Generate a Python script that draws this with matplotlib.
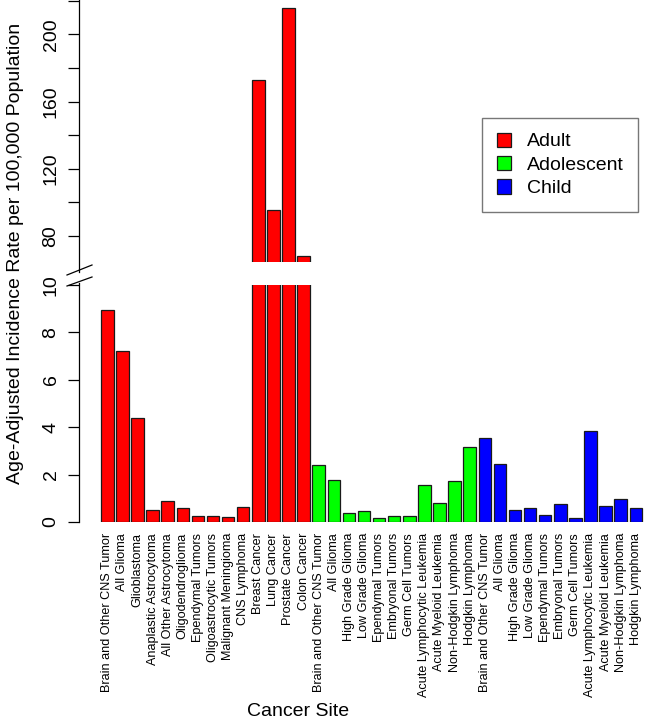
import matplotlib
matplotlib.use("Agg")
import matplotlib.pyplot as plt
from matplotlib.lines import Line2D
from matplotlib.patches import Patch

plt.rcParams["font.family"] = ["Liberation Sans", "DejaVu Sans"]

adult_sites = ["Brain and Other CNS Tumor", "All Glioma", "Glioblastoma",
               "Anaplastic Astrocytoma", "All Other Astrocytoma", "Oligodendroglioma",
               "Ependymal Tumors", "Oligoastrocytic Tumors", "Malignant Meningioma",
               "CNS Lymphoma", "Breast Cancer", "Lung Cancer", "Prostate Cancer",
               "Colon Cancer"]
adult_rates = [8.93, 7.23, 4.37, 0.52, 0.90, 0.59, 0.27, 0.27, 0.21, 0.63,
               173, 95.5, 216, 68]

young_sites = ["Brain and Other CNS Tumor", "All Glioma", "High Grade Glioma",
               "Low Grade Glioma", "Ependymal Tumors", "Embryonal Tumors",
               "Germ Cell Tumors", "Acute Lymphocytic Leukemia",
               "Acute Myeloid Leukemia", "Non-Hodgkin Lymphoma", "Hodgkin Lymphoma"]
adolescent_rates = [2.40, 1.76, 0.39, 0.47, 0.17, 0.25, 0.24, 1.58, 0.81, 1.72, 3.17]
child_rates = [3.54, 2.45, 0.52, 0.61, 0.28, 0.78, 0.15, 3.82, 0.67, 0.95, 0.59]

groups = ["Adult", "Adolescent", "Child"]
colors = ["#ff0000", "#00ff00", "#0000ff"]

labels = adult_sites + young_sites + young_sites
values = adult_rates + adolescent_rates + child_rates
bar_colors = ([colors[0]] * len(adult_rates) + [colors[1]] * len(adolescent_rates)
              + [colors[2]] * len(child_rates))
xpos = list(range(len(values)))

W, H = 645, 723
fig = plt.figure(figsize=(W / 100, H / 100), dpi=100)


def px_axes(left, top, right, bottom):
    return fig.add_axes([left / W, 1 - bottom / H, (right - left) / W, (bottom - top) / H])


ax_top = px_axes(79, 0, 645, 262)
ax_bot = px_axes(79, 285, 645, 522)

xlim = (-1.874, 35.61)
for ax in (ax_top, ax_bot):
    ax.bar(xpos, values, width=0.83, color=bar_colors, edgecolor="#1a1a1a", linewidth=0.9)
    ax.set_xlim(*xlim)
    for s in ("top", "right", "bottom", "left"):
        ax.spines[s].set_visible(False)
    ax.tick_params(axis="y", length=8, width=0.9, pad=6, labelsize=14, labelrotation=90)

ax_top.set_ylim(64.5, 220.5)
ax_top.set_yticks([80, 100, 120, 140, 160, 180, 200, 220])
ax_top.set_yticklabels(["80", "", "120", "", "160", "", "200", ""], va="center")
ax_top.set_xticks([])

ax_bot.set_ylim(0, 10)
ax_bot.set_yticks([0, 2, 4, 6, 8, 10])
ax_bot.set_yticklabels(["0", "2", "4", "6", "8", "10"], va="center")
ax_bot.set_xticks(xpos)
ax_bot.set_xticklabels(labels, rotation=90, fontsize=9.1, va="top", ha="center")
ax_bot.tick_params(axis="x", length=0, pad=8)

# axis line with break
def fig_line(xs, ys):
    fig.add_artist(Line2D([x / W for x in xs], [1 - y / H for y in ys],
                          color="black", linewidth=0.9))


fig_line([79, 79], [0, 272])
fig_line([79, 79], [283, 522])
fig_line([67, 92], [275, 265])
fig_line([67, 92], [286, 277])

fig.text(16 / W, 1 - 253 / H, "Age-Adjusted Incidence Rate per 100,000 Population",
         rotation=90, ha="center", va="center", fontsize=14)
fig.text(298 / W, 1 - 712 / H, "Cancer Site", ha="center", va="center", fontsize=14)

handles = [Patch(facecolor=c, edgecolor="#1a1a1a", linewidth=0.9) for c in colors]
fig.legend(handles, groups, loc="upper left", bbox_to_anchor=(482 / W, 1 - 118 / H),
           frameon=True, fancybox=False, edgecolor="#555555", fontsize=14,
           handlelength=0.75, handleheight=0.75, handletextpad=0.8, labelspacing=0.28,
           borderpad=0.75, borderaxespad=0)

fig.savefig("out.png", dpi=100)
